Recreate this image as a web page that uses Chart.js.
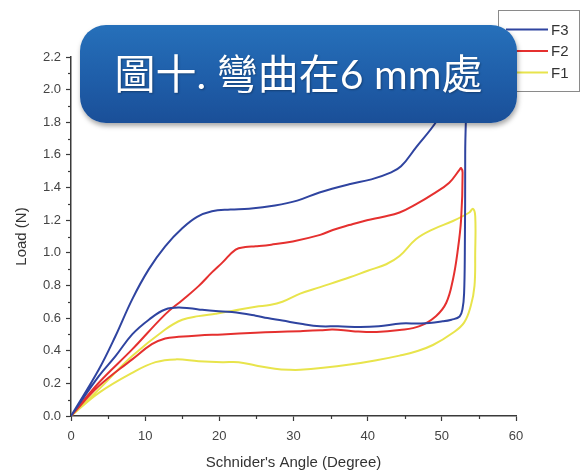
<!DOCTYPE html>
<html>
<head>
<meta charset="utf-8">
<script src="https://cdn.jsdelivr.net/npm/chart.js@4"></script>
<style>
  html, body { margin: 0; padding: 0; background: #fff; }
  #wrap { position: relative; width: 582px; height: 470px; overflow: hidden; }
  #title {
    position: absolute; left: 80px; top: 25px; width: 437px; height: 98px;
    border-radius: 26px;
    background: linear-gradient(180deg, #2670ba 0%, #1f5ea9 55%, #1a4f98 100%);
    box-shadow: 1px 3px 5px rgba(0,0,0,0.35);
    color: #fff; font-family: Lato, "Noto Sans CJK TC", sans-serif;
    font-size: 41px; line-height: 98px; text-align: center; white-space: nowrap;
    text-shadow: 1px 1px 2px rgba(0,0,0,0.3);
  }
</style>
</head>
<body>
<div id="wrap">
  <canvas id="c" width="582" height="470"></canvas>
  <div id="title">圖十. 彎曲在6 mm處</div>
</div>
<script>
// ---- data ----
const seriesNames = ["F3", "F2", "F1"];
const seriesColors = ["#2f44a0", "#e5302f", "#e8e44c"];

// F3: loading branch then unloading branch
const f3X = [0, 3.75, 6, 8.25, 10.5, 12.7, 15, 17, 19, 21.5, 24, 27.5, 30.5, 33.5, 37.5, 40.5, 43, 44.5, 46.5, 49.2, 51.5, 53.1,
             53.15, 53.1, 53.0, 52.8, 52.4, 51.3, 50.1, 47.2, 44.5, 41.5, 39, 36, 33.6, 31, 28.5, 26.5, 24.9, 21.7, 19.5, 17.2, 15, 12.7, 10.5, 8.25, 6, 3.75, 0];
const f3Y = [0, 0.285, 0.49, 0.715, 0.90, 1.04, 1.15, 1.22, 1.255, 1.265, 1.27, 1.29, 1.32, 1.37, 1.42, 1.45, 1.49, 1.53, 1.645, 1.80, 1.98, 2.15,
             1.6, 1.0, 0.75, 0.66, 0.61, 0.59, 0.58, 0.567, 0.567, 0.55, 0.545, 0.55, 0.55, 0.565, 0.585, 0.60, 0.615, 0.637, 0.643, 0.653, 0.664, 0.653, 0.59, 0.50, 0.367, 0.244, 0];

const f2X = [0, 3.75, 8.25, 12.7, 15, 17.2, 19, 20.4, 22.2, 23.5, 24.9, 27, 29.9, 33.6, 35.3, 37.5, 39.9, 42, 44.3, 46.6, 48.8, 51, 52.4, 52.6,
             52.8, 52.6, 52.1, 51.5, 50.6, 49.2, 47, 44.3, 41.2, 38, 35.3, 33.6, 30.9, 27.5, 24.9, 20.4, 17.2, 14.5, 12.7, 10.9, 8.25, 3.75, 0];
const f2Y = [0, 0.204, 0.408, 0.623, 0.71, 0.796, 0.88, 0.94, 1.02, 1.035, 1.04, 1.05, 1.07, 1.11, 1.14, 1.17, 1.20, 1.22, 1.247, 1.30, 1.36, 1.43, 1.51, 1.52,
             1.49, 1.205, 1.0, 0.837, 0.694, 0.612, 0.551, 0.527, 0.515, 0.52, 0.53, 0.525, 0.52, 0.515, 0.51, 0.50, 0.494, 0.485, 0.475, 0.44, 0.347, 0.183, 0];

const f1X = [0, 3.75, 8.25, 12.7, 15, 17.2, 19.5, 21.7, 24.9, 26.8, 28.5, 30.9, 33.6, 37.6, 40, 42.5, 44.3, 46.5, 48.8, 51.5, 53.7, 54.2,
             54.5, 54.5, 54.4, 53.9, 53, 51.5, 48.8, 46.5, 44.3, 41, 37.6, 34, 30.9, 29.5, 27.5, 24.9, 22.6, 20.4, 17.2, 14.1, 11.4, 8.25, 3.75, 0];
const f1Y = [0, 0.163, 0.367, 0.53, 0.59, 0.612, 0.627, 0.643, 0.67, 0.68, 0.70, 0.75, 0.79, 0.85, 0.89, 0.93, 0.98, 1.083, 1.144, 1.195, 1.247, 1.27,
             1.226, 1.0, 0.796, 0.674, 0.572, 0.51, 0.435, 0.395, 0.37, 0.34, 0.315, 0.295, 0.283, 0.283, 0.29, 0.31, 0.33, 0.33, 0.336, 0.347, 0.33, 0.265, 0.142, 0];

const xTickStep = 10, xMin = 0, xMax = 60;
const yTickStep = 0.2, yMin = 0, yMax = 2.2;
const xTitle = "Schnider's Angle (Degree)";
const yTitle = "Load (N)";

// ---- build ----
const allX = [f3X, f2X, f1X];
const allY = [f3Y, f2Y, f1Y];
const datasets = seriesNames.map((name, i) => ({
  label: name,
  data: allX[i].map((x, k) => ({ x: x, y: allY[i][k] })),
  borderColor: seriesColors[i],
  backgroundColor: seriesColors[i],
  borderWidth: 2,
  pointRadius: 0,
  showLine: true,
  tension: 0.4,
  fill: false
}));

const FONT = "'Liberation Sans', Arial, sans-serif";
const AXIS = "#3a3a3a";

const minorTicks = {
  id: 'minorTicks',
  afterDraw(chart) {
    const ctx = chart.ctx;
    const xs = chart.scales.x, ys = chart.scales.y;
    ctx.save();
    ctx.strokeStyle = AXIS;
    ctx.lineWidth = 1.2;
    const xt = xs.ticks.map(t => t.value);
    for (let i = 0; i < xt.length - 1; i++) {
      const px = Math.round(xs.getPixelForValue((xt[i] + xt[i + 1]) / 2)) + 0.5;
      ctx.beginPath(); ctx.moveTo(px, xs.top); ctx.lineTo(px, xs.top + 3); ctx.stroke();
    }
    const yt = ys.ticks.map(t => t.value);
    for (let i = 0; i < yt.length - 1; i++) {
      const py = Math.round(ys.getPixelForValue((yt[i] + yt[i + 1]) / 2)) + 0.5;
      ctx.beginPath(); ctx.moveTo(ys.right, py); ctx.lineTo(ys.right - 3, py); ctx.stroke();
    }
    ctx.restore();
  }
};

const legendBox = {
  id: 'legendBox',
  afterDraw(chart) {
    const ctx = chart.ctx;
    ctx.save();
    ctx.fillStyle = '#fff';
    ctx.fillRect(498.5, 10.5, 81, 81);
    ctx.strokeStyle = '#8a8a8a';
    ctx.lineWidth = 1;
    ctx.strokeRect(498.5, 10.5, 81, 81);
    ctx.font = "15px " + FONT;
    ctx.textBaseline = 'middle';
    ctx.textAlign = 'left';
    chart.data.datasets.forEach((ds, i) => {
      const y = 29.5 + i * 21.5;
      ctx.strokeStyle = ds.borderColor;
      ctx.lineWidth = 2;
      ctx.beginPath(); ctx.moveTo(506, y); ctx.lineTo(548, y); ctx.stroke();
      ctx.fillStyle = '#333';
      ctx.fillText(ds.label, 551, y + 1);
    });
    ctx.restore();
  }
};

new Chart(document.getElementById('c'), {
  type: 'scatter',
  data: { datasets },
  options: {
    responsive: false,
    animation: false,
    devicePixelRatio: 1,
    layout: { padding: { top: 57, right: 66, left: 0, bottom: 0 } },
    plugins: { legend: { display: false }, tooltip: { enabled: false } },
    scales: {
      x: {
        type: 'linear', min: xMin, max: xMax,
        afterFit(s) { s.height = 54; },
        ticks: { stepSize: xTickStep, color: '#444', font: { family: FONT, size: 13 }, padding: 8, maxRotation: 0 },
        grid: { drawOnChartArea: false, drawTicks: true, tickLength: 5, tickColor: AXIS, tickWidth: 1.2 },
        border: { display: true, color: AXIS, width: 1.5 },
        title: { display: true, text: xTitle, color: '#333', font: { family: FONT, size: 15, lineHeight: 1.0 }, padding: { top: 0, bottom: 0 } }
      },
      y: {
        type: 'linear', min: yMin, max: yMax,
        afterFit(s) { s.width = 71; },
        ticks: { stepSize: yTickStep, color: '#444', font: { family: FONT, size: 13 }, padding: 5,
                 callback: v => Number(v).toFixed(1) },
        grid: { drawOnChartArea: false, drawTicks: true, tickLength: 5, tickColor: AXIS, tickWidth: 1.2 },
        border: { display: true, color: AXIS, width: 1.5 },
        title: { display: true, text: yTitle, color: '#333', font: { family: FONT, size: 15 }, padding: { top: 13, bottom: 0 } }
      }
    }
  },
  plugins: [minorTicks, legendBox]
});
</script>
</body>
</html>
